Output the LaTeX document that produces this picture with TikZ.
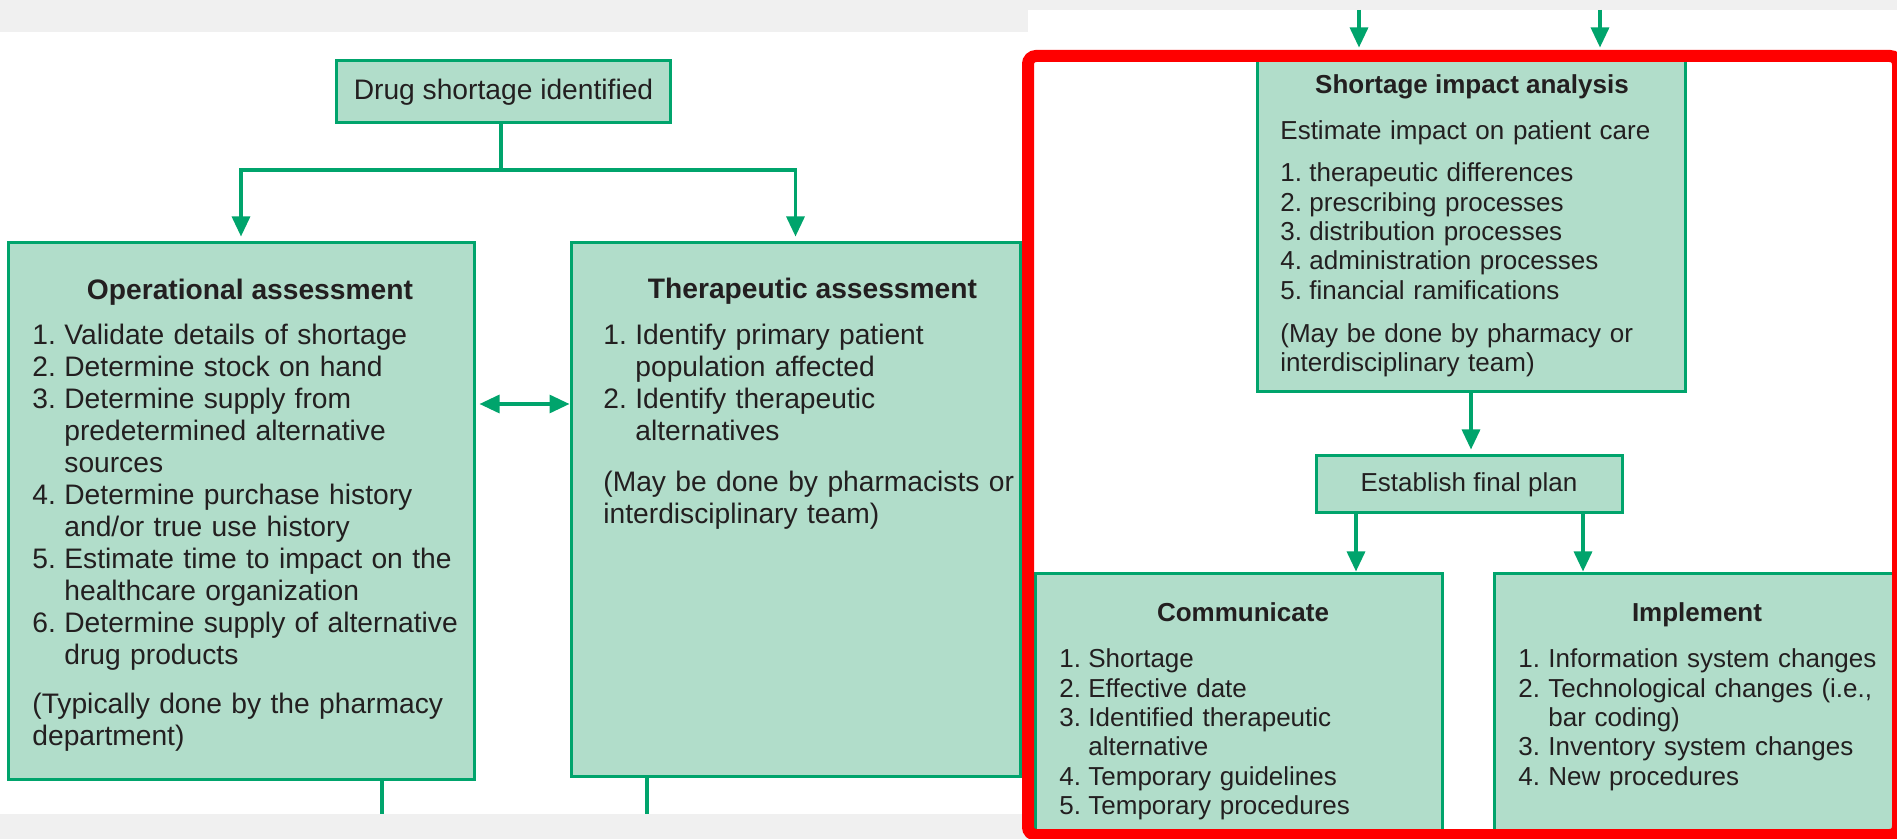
\documentclass[tikz,border=0pt]{standalone}
\usepackage{fontspec}
\setmainfont{Liberation Sans}
\usetikzlibrary{arrows.meta,calc}
\definecolor{boxfill}{HTML}{B1DDCA}
\definecolor{boxline}{HTML}{00A46C}
\definecolor{txt}{HTML}{231F20}
\definecolor{bggray}{HTML}{F0F0F0}
\definecolor{hilite}{HTML}{FF0000}
\newcommand\lfont{\fontsize{14.1pt}{16pt}\selectfont}
\newcommand\rfont{\fontsize{13pt}{14.65pt}\selectfont}
\newcommand\nl[1]{\makebox[16pt][l]{#1}}
\newcommand\il{\hspace*{16pt}}
\newcommand\nr[1]{\makebox[14.5pt][l]{#1}}
\newcommand\ir{\hspace*{14.5pt}}
\begin{document}
\begin{tikzpicture}[x=0.5pt,y=-0.5pt,
  box/.style={draw=boxline, fill=boxfill, line width=1.5pt, inner sep=0pt, text=txt},
  listL/.style={text=txt, font=\lfont, inner sep=0pt, anchor=base west, text width=#1, align=left},
  listR/.style={text=txt, font=\rfont, inner sep=0pt, anchor=base west, text width=#1, align=left},
  headL/.style={text=txt, font=\lfont\bfseries, inner sep=0pt, anchor=base},
  headR/.style={text=txt, font=\rfont\bfseries, inner sep=0pt, anchor=base},
  conn/.style={draw=boxline, line width=1.6pt},
  arr/.style={conn, -{Triangle[width=9pt,length=10pt]}},
  darr/.style={conn, {Triangle[width=9pt,length=10pt]}-{Triangle[width=9pt,length=10pt]}}
]
\useasboundingbox (0,0) rectangle (1897,839);
% background bands
\fill[bggray] (0,0) rectangle (1028,32);
\fill[bggray] (1028,0) rectangle (1897,10);
\fill[bggray] (0,814) rectangle (1028,839);

% ---------- left panel ----------
\node[box, font=\lfont, minimum width=167pt, minimum height=31pt] (drug) at (503.5,92) {Drug shortage identified};
\node[box, minimum width=233pt, minimum height=268pt] (op) at (241,511) {};
\node[box, minimum width=224.5pt, minimum height=266.5pt] (th) at (795.5,509.5) {};

\node[headL] (oph) at (250,300) {Operational assessment};
\node[listL=230pt] (opt) at (32,345) {%
\nl{1.}Validate details of shortage\\
\nl{2.}Determine stock on hand\\
\nl{3.}Determine supply from\\
\il predetermined alternative\\
\il sources\\
\nl{4.}Determine purchase history\\
\il and/or true use history\\
\nl{5.}Estimate time to impact on the\\
\il healthcare organization\\
\nl{6.}Determine supply of alternative\\
\il drug products\\[8.5pt]
(Typically done by the pharmacy\\
department)};

\node[headL] (thh) at (812.5,299) {Therapeutic assessment};
\node[listL=215pt] (tht) at (603,345) {%
\nl{1.}Identify primary patient\\
\il population affected\\
\nl{2.}Identify therapeutic\\
\il alternatives\\[9.5pt]
(May be done by pharmacists or\\
interdisciplinary team)};

\coordinate (split) at (501,170);
\coordinate (dy) at (0,404);
\coordinate (opout) at (382,814);
\coordinate (thout) at (647,814);
\draw[conn] (drug.south -| split) -- (split);
\draw[arr, shorten >=2.5pt] (split) -| (op.north);
\draw[arr, shorten >=2.5pt] (split) -| (th.north);
\draw[darr, shorten <=2pt] (op.east |- dy) -- (th.west |- dy);
\draw[conn] (op.south -| opout) -- (opout);
\draw[conn] (th.south -| thout) -- (thout);

% ---------- right panel ----------
\node[box, minimum width=214pt, minimum height=167.5pt] (sia) at (1471,224.5) {};
\node[headR] (siah) at (1472,94) {Shortage impact analysis};
\node[listR=200pt] (siat) at (1280,140) {%
Estimate impact on patient care\\[6.3pt]
\nr{1.}therapeutic differences\\
\nr{2.}prescribing processes\\
\nr{3.}distribution processes\\
\nr{4.}administration processes\\
\nr{5.}financial ramifications\\[7pt]
(May be done by pharmacy or\\
interdisciplinary team)};

\node[box, font=\rfont, minimum width=153pt, minimum height=28.5pt] (est) at (1469,484.5) {Establish final plan};

\node[box, minimum width=203.5pt, minimum height=130pt] (comm) at (1238.5,704) {};
\node[headR] (commh) at (1243,622) {Communicate};
\node[listR=195pt] (commt) at (1059,668) {%
\nr{1.}Shortage\\
\nr{2.}Effective date\\
\nr{3.}Identified therapeutic\\
\ir alternative\\
\nr{4.}Temporary guidelines\\
\nr{5.}Temporary procedures};

\node[box, minimum width=200pt, minimum height=130pt] (impl) at (1694,704) {};
\node[headR] (implh) at (1697,622) {Implement};
\node[listR=195pt] (implt) at (1518,668) {%
\makebox[15pt][l]{1.}Information system changes\\
\makebox[15pt][l]{2.}Technological changes (i.e.,\\
\hspace*{15pt}bar coding)\\
\makebox[15pt][l]{3.}Inventory system changes\\
\makebox[15pt][l]{4.}New procedures};

\coordinate (in1) at (1359,10);
\coordinate (in2) at (1600,10);
\coordinate (c1) at (1356,0);
\coordinate (c2) at (1583,0);
\draw[arr, shorten >=4pt] (in1) -- (sia.north -| in1);
\draw[arr, shorten >=4pt] (in2) -- (sia.north -| in2);
\draw[arr, shorten >=2.5pt] (sia.south) -- (sia.south |- est.north);
\draw[arr, shorten >=0.5pt] (est.south -| c1) -- (comm.north -| c1);
\draw[arr, shorten >=0.5pt] (est.south -| c2) -- (impl.north -| c2);

% highlight frame
\node[draw=hilite, line width=6pt, rounded corners=4pt, inner sep=0pt,
      minimum width=435pt, minimum height=389.5pt] (frame) at (1463,445.5) {};
\end{tikzpicture}
\end{document}
